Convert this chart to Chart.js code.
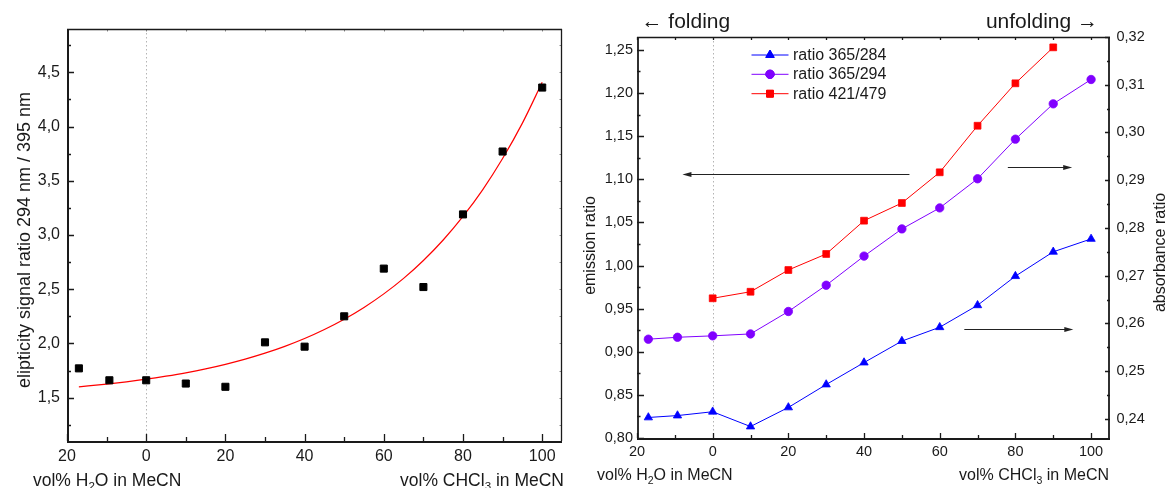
<!DOCTYPE html>
<html>
<head>
<meta charset="utf-8">
<script src="https://cdn.jsdelivr.net/npm/chart.js@4.4.1/dist/chart.umd.min.js"></script>
<style>
  html, body { margin: 0; padding: 0; background: #fff; }
  #wrap { position: relative; width: 1166px; height: 488px; overflow: hidden; }
  #left { position: absolute; left: 0; top: 0; }
  #right { position: absolute; left: 580px; top: 0; }
</style>
</head>
<body>
<div id="wrap">
  <canvas id="left" width="580" height="488"></canvas>
  <canvas id="right" width="586" height="488"></canvas>
</div>
<script>
// ---------- CD titration: ellipticity ratio vs. solvent composition ----------
// negative x = vol% H2O in MeCN, positive x = vol% CHCl3 in MeCN
const ellipX     = [-17, -9.3, 0, 10, 20, 30, 40, 50, 60, 70, 80, 90, 100];
const ellipRatio = [1.77, 1.66, 1.66, 1.63, 1.60, 2.01, 1.97, 2.25, 2.69, 2.52, 3.19, 3.77, 4.36];

// exponential fit curve through the CD data
const fitX = [-17, -10, -5, 0, 5, 10, 15, 20, 25, 30, 35, 40, 45, 50, 55, 60, 65, 70, 75, 80, 85, 90, 95, 100];
const fitY = [1.600, 1.625, 1.646, 1.670, 1.698, 1.729, 1.765, 1.807, 1.855, 1.910, 1.973, 2.045,
              2.128, 2.223, 2.332, 2.457, 2.600, 2.765, 2.954, 3.171, 3.419, 3.705, 4.032, 4.408];

const ellipTicks = [1.5, 2.0, 2.5, 3.0, 3.5, 4.0, 4.5];
const volTicks   = [-20, 0, 20, 40, 60, 80, 100];

// ---------- absorbance / emission ratios ----------
const volX         = [-17, -9.3, 0, 10, 20, 30, 40, 50, 60, 70, 80, 90, 100];
const ratio365_284 = [0.2403, 0.2407, 0.2415, 0.2384, 0.2424, 0.2472, 0.2518, 0.2563, 0.2592, 0.2638, 0.2699, 0.2750, 0.2777];
const ratio365_294 = [0.2567, 0.2571, 0.2574, 0.2578, 0.2625, 0.2680, 0.2741, 0.2798, 0.2842, 0.2903, 0.2986, 0.3060, 0.3111];
const ratio421_479 = [null, null, 0.962, 0.9696, 0.9948, 1.0134, 1.052, 1.0725, 1.1081, 1.1621, 1.2113, 1.253, null];

const emissionTicks   = [0.80, 0.85, 0.90, 0.95, 1.00, 1.05, 1.10, 1.15, 1.20, 1.25];
const absorbanceTicks = [0.24, 0.25, 0.26, 0.27, 0.28, 0.29, 0.30, 0.31, 0.32];

// direction arrows pointing each curve to its axis: [x0, x1, y, axis]
const axisArrows = [
  [52, -8, 1.1058, 'y'],
  [78, 95, 0.2928, 'y2'],
  [66.5, 95.3, 0.2588, 'y2']
];

// ---------- shared drawing helpers ----------
const FAMILY = "'Liberation Sans', Arial, Helvetica, sans-serif";
const INK = '#1a1a1a';
Chart.defaults.font.family = FAMILY;
Chart.defaults.color = INK;

const pts = (xs, ys) => xs.map((x, i) => ({ x, y: ys[i] })).filter(p => p.y !== null);
const fixedTicks = values => scale => { scale.ticks = values.map(v => ({ value: v })); };
const comma = digits => v => Number(v).toFixed(digits).replace('.', ',');

function minorTicks(majors, min, max) {
  const half = (majors[1] - majors[0]) / 2;
  const out = [];
  for (let i = -1; i < majors.length; i++) {
    const v = i < 0 ? majors[0] - half : majors[i] + half;
    if (v > min + 1e-9 && v < max - 1e-9) out.push(v);
  }
  return out;
}

function drawTicks(ctx, area, scale, values, side, len) {
  ctx.beginPath();
  values.forEach(v => {
    const p = Math.round(scale.getPixelForValue(v)) + 0.5;
    if (side === 'bottom') { ctx.moveTo(p, area.bottom); ctx.lineTo(p, area.bottom - len); }
    if (side === 'top')    { ctx.moveTo(p, area.top);    ctx.lineTo(p, area.top + len); }
    if (side === 'left')   { ctx.moveTo(area.left, p);   ctx.lineTo(area.left + len, p); }
    if (side === 'right')  { ctx.moveTo(area.right, p);  ctx.lineTo(area.right - len, p); }
  });
  ctx.stroke();
}

function line(ctx, x0, y0, x1, y1, w) {
  ctx.lineWidth = w;
  ctx.beginPath(); ctx.moveTo(x0, y0); ctx.lineTo(x1, y1); ctx.stroke();
}

// text with a subscript part: parts = [[text, isSub], ...]
function richText(ctx, parts, x, y, size, align) {
  const sub = size * 0.66;
  const widths = parts.map(([t, s]) => { ctx.font = `${s ? sub : size}px ${FAMILY}`; return ctx.measureText(t).width; });
  const total = widths.reduce((a, b) => a + b, 0);
  let cx = align === 'right' ? x - total : x;
  ctx.textAlign = 'left';
  ctx.textBaseline = 'alphabetic';
  parts.forEach(([t, s], i) => {
    ctx.font = `${s ? sub : size}px ${FAMILY}`;
    ctx.fillText(t, cx, s ? y + size * 0.28 : y);
    cx += widths[i];
  });
}

function verticalText(ctx, text, x, y, size) {
  ctx.save();
  ctx.translate(x, y);
  ctx.rotate(-Math.PI / 2);
  ctx.font = `${size}px ${FAMILY}`;
  ctx.textAlign = 'center';
  ctx.textBaseline = 'alphabetic';
  ctx.fillText(text, 0, 0);
  ctx.restore();
}

function zeroLine(chart) {
  const { ctx, chartArea: a, scales: { x } } = chart;
  const px = Math.round(x.getPixelForValue(0)) + 0.5;
  ctx.save();
  ctx.strokeStyle = '#b4b4b4';
  ctx.setLineDash([1.5, 2.5]);
  line(ctx, px, a.top, px, a.bottom, 1);
  ctx.restore();
}

// ---------- left panel ----------
const leftDecor = {
  id: 'leftDecor',
  beforeDatasetsDraw: zeroLine,
  afterDraw(chart) {
    const { ctx, chartArea: a, scales: { x, y } } = chart;
    ctx.save();
    ctx.strokeStyle = INK;
    ctx.lineWidth = 1.3;
    drawTicks(ctx, a, x, volTicks, 'bottom', 7);
    drawTicks(ctx, a, x, minorTicks(volTicks, x.min, x.max), 'bottom', 4);
    drawTicks(ctx, a, y, ellipTicks, 'left', 7);
    drawTicks(ctx, a, y, minorTicks(ellipTicks, y.min, y.max), 'left', 4);
    ctx.strokeStyle = '#8a8a8a';
    ctx.lineWidth = 1;
    drawTicks(ctx, a, x, volTicks.concat(minorTicks(volTicks, x.min, x.max)), 'top', 2.5);
    drawTicks(ctx, a, y, ellipTicks.concat(minorTicks(ellipTicks, y.min, y.max)), 'right', 2.5);

    ctx.strokeStyle = INK;
    line(ctx, a.left, a.top + 0.5, a.right, a.top + 0.5, 1.3);
    line(ctx, a.right - 0.5, a.top, a.right - 0.5, a.bottom, 1.3);
    line(ctx, a.left + 1, a.top, a.left + 1, a.bottom + 1, 2);
    line(ctx, a.left, a.bottom + 1, a.right, a.bottom + 1, 2);

    ctx.fillStyle = INK;
    verticalText(ctx, 'elipticity signal ratio 294 nm / 395 nm', 29.5, 240, 18);
    richText(ctx, [['vol% H', false], ['2', true], ['O in MeCN', false]], 33, 485.5, 17.5, 'left');
    richText(ctx, [['vol% CHCl', false], ['3', true], [' in MeCN', false]], 564, 485.5, 17.5, 'right');
    ctx.restore();
  }
};

new Chart(document.getElementById('left'), {
  type: 'scatter',
  data: {
    datasets: [
      {
        label: 'fit',
        data: pts(fitX, fitY),
        showLine: true,
        borderColor: '#ff0000',
        borderWidth: 1.2,
        pointRadius: 0,
        cubicInterpolationMode: 'monotone',
        order: 2
      },
      {
        label: 'ellipticity ratio',
        data: pts(ellipX, ellipRatio),
        showLine: false,
        pointStyle: 'rect',
        pointRadius: 5,
        backgroundColor: '#000',
        borderColor: '#000',
        borderWidth: 1,
        order: 1
      }
    ]
  },
  options: {
    responsive: false,
    animation: false,
    devicePixelRatio: 1,
    layout: { padding: { top: 29, right: 18, left: 0, bottom: 0 } },
    plugins: { legend: { display: false }, tooltip: { enabled: false } },
    scales: {
      x: {
        type: 'linear', min: -20, max: 105,
        afterBuildTicks: fixedTicks(volTicks),
        afterFit: s => { s.height = 47; },
        grid: { display: false, drawTicks: false },
        border: { display: false },
        ticks: { padding: 6, font: { size: 16 }, color: INK, maxRotation: 0, callback: v => String(Math.abs(v)) }
      },
      y: {
        type: 'linear', min: 1.1, max: 4.9,
        afterBuildTicks: fixedTicks(ellipTicks),
        afterFit: s => { s.width = 67; },
        grid: { display: false, drawTicks: false },
        border: { display: false },
        ticks: { padding: 7, font: { size: 16 }, color: INK, callback: comma(1) }
      }
    }
  },
  plugins: [leftDecor]
});

// ---------- right panel ----------
const seriesStyle = [
  { label: 'ratio 365/284', color: '#0000ff', pointStyle: 'triangle', radius: 4.8 },
  { label: 'ratio 365/294', color: '#8000ff', pointStyle: 'circle', radius: 4.2 },
  { label: 'ratio 421/479', color: '#ff0000', pointStyle: 'rect', radius: 4.8 }
];

const rightDecor = {
  id: 'rightDecor',
  beforeDatasetsDraw: zeroLine,
  afterDraw(chart) {
    const { ctx, chartArea: a, scales } = chart;
    const { x, y, y2 } = scales;
    ctx.save();
    ctx.strokeStyle = INK;
    ctx.lineWidth = 1.3;
    drawTicks(ctx, a, x, volTicks, 'bottom', 5);
    drawTicks(ctx, a, x, minorTicks(volTicks, x.min, x.max), 'bottom', 3);
    drawTicks(ctx, a, x, volTicks.concat(minorTicks(volTicks, x.min, x.max)), 'top', 3);
    drawTicks(ctx, a, y, emissionTicks, 'left', 7);
    drawTicks(ctx, a, y, minorTicks(emissionTicks, y.min, y.max), 'left', 3.5);
    drawTicks(ctx, a, y2, absorbanceTicks, 'right', 5);
    drawTicks(ctx, a, y2, minorTicks(absorbanceTicks, y2.min, y2.max), 'right', 3);

    line(ctx, a.left, a.top + 0.5, a.right, a.top + 0.5, 1.4);
    line(ctx, a.left + 1, a.top, a.left + 1, a.bottom + 1, 1.8);
    line(ctx, a.right - 1, a.top, a.right - 1, a.bottom + 1, 1.8);
    line(ctx, a.left, a.bottom + 1, a.right, a.bottom + 1, 1.8);

    // arrows
    ctx.strokeStyle = '#222';
    ctx.fillStyle = '#222';
    axisArrows.forEach(([x0, x1, v, axis]) => {
      const py = Math.round(scales[axis].getPixelForValue(v)) + 0.5;
      const p0 = x.getPixelForValue(x0), p1 = x.getPixelForValue(x1);
      const dir = Math.sign(p1 - p0);
      line(ctx, p0, py, p1 - dir * 6, py, 1);
      ctx.beginPath();
      ctx.moveTo(p1, py);
      ctx.lineTo(p1 - dir * 9, py - 2.6);
      ctx.lineTo(p1 - dir * 9, py + 2.6);
      ctx.closePath();
      ctx.fill();
    });

    // legend
    const rows = [55, 74.3, 93.7];
    seriesStyle.forEach((s, i) => {
      const ly = rows[i];
      ctx.strokeStyle = s.color;
      line(ctx, 171.5, ly, 208.5, ly, 1);
      Chart.helpers.drawPoint(ctx, {
        pointStyle: s.pointStyle, radius: s.radius, rotation: 0, borderWidth: 0.8
      }, 190, ly);
      ctx.fillStyle = s.color;
      ctx.strokeStyle = s.color;
      ctx.fill();
      ctx.stroke();
      ctx.fillStyle = INK;
      ctx.font = `16px ${FAMILY}`;
      ctx.textAlign = 'left';
      ctx.textBaseline = 'middle';
      ctx.fillText(s.label, 213, ly + 0.5);
    });

    // titles
    ctx.fillStyle = INK;
    ctx.font = `21px ${FAMILY}`;
    ctx.textBaseline = 'alphabetic';
    ctx.textAlign = 'left';
    ctx.fillText('\u2190 folding', 61.5, 27.5);
    ctx.textAlign = 'right';
    ctx.fillText('unfolding \u2192', 518, 27.5);

    verticalText(ctx, 'emission ratio', 15, 245.5, 16);
    verticalText(ctx, 'absorbance ratio', 585, 252.5, 16);
    richText(ctx, [['vol% H', false], ['2', true], ['O in MeCN', false]], 17, 480, 16, 'left');
    richText(ctx, [['vol% CHCl', false], ['3', true], [' in MeCN', false]], 529, 479.5, 16, 'right');
    ctx.restore();
  }
};

const seriesData = [ratio365_284, ratio365_294, ratio421_479];
const seriesAxis = ['y2', 'y2', 'y'];

new Chart(document.getElementById('right'), {
  type: 'scatter',
  data: {
    datasets: seriesStyle.map((s, i) => ({
      label: s.label,
      data: pts(volX, seriesData[i]),
      yAxisID: seriesAxis[i],
      showLine: true,
      borderColor: s.color,
      borderWidth: 1,
      backgroundColor: s.color,
      pointStyle: s.pointStyle,
      pointRadius: s.radius,
      pointBorderWidth: 0.8,
      pointBorderColor: s.color,
      pointBackgroundColor: s.color,
      tension: 0
    }))
  },
  options: {
    responsive: false,
    animation: false,
    devicePixelRatio: 1,
    layout: { padding: { top: 37, right: 0, left: 0, bottom: 0 } },
    plugins: { legend: { display: false }, tooltip: { enabled: false } },
    scales: {
      x: {
        type: 'linear', min: -20, max: 105,
        afterBuildTicks: fixedTicks(volTicks),
        afterFit: s => { s.height = 50; },
        grid: { display: false, drawTicks: false },
        border: { display: false },
        ticks: { padding: 5, font: { size: 14.5 }, color: INK, maxRotation: 0, callback: v => String(Math.abs(v)) }
      },
      y: {
        type: 'linear', position: 'left', min: 0.80, max: 1.265,
        afterBuildTicks: fixedTicks(emissionTicks),
        afterFit: s => { s.width = 57; },
        grid: { display: false, drawTicks: false },
        border: { display: false },
        ticks: { padding: 4, font: { size: 14.5 }, color: INK, callback: comma(2) }
      },
      y2: {
        type: 'linear', position: 'right', min: 0.236, max: 0.32,
        afterBuildTicks: fixedTicks(absorbanceTicks),
        afterFit: s => { s.width = 56; },
        grid: { display: false, drawTicks: false },
        border: { display: false },
        ticks: { padding: 6.5, font: { size: 14.5 }, color: INK, callback: comma(2) }
      }
    }
  },
  plugins: [rightDecor]
});
</script>
</body>
</html>
